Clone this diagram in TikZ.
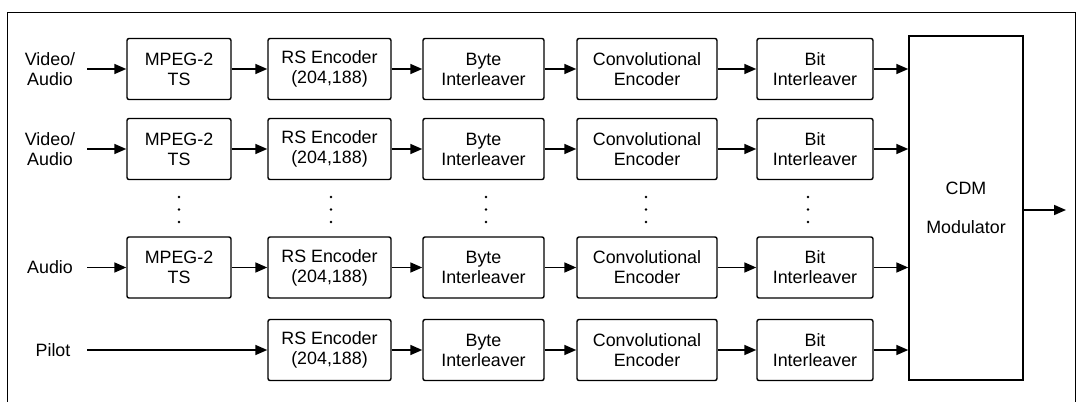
\documentclass[tikz,border=0pt]{standalone}
\usepackage{fontspec}
\setmainfont{Liberation Sans}
\usetikzlibrary{arrows.meta}

\tikzset{
    blk/.style={draw, line width=1pt, rounded corners=1.5pt, minimum height=1.525cm,
        align=center, font=\fontsize{12.7}{14.2}\selectfont},
    lbl/.style={align=center, font=\fontsize{12.7}{14.2}\selectfont},
    flow/.style={line width=1.2pt, -{Triangle[length=0.3cm, width=0.25cm]}}
}

\begin{document}
\begin{tikzpicture}[x=0.025cm, y=-0.025cm]
    \useasboundingbox (0,0) rectangle (1078,401);
    % open frame
    \draw[line width=0.7pt] (7,405) -- (7,12) -- (1075,12) -- (1075,405);

    % modulator on the right
    \node[blk, rounded corners=0pt, minimum width=2.85cm, minimum height=8.6cm] (cdm) at (966,208) {CDM\\[14pt]Modulator};
    \coordinate (out) at (1066,210);
    \draw[flow] (cdm.east |- out) -- (out);

    % three programme chains
    \foreach \i/\y/\src in {1/69/{Video/\\Audio}, 2/149/{Video/\\Audio}, 3/267.5/Audio} {
        \node[lbl] (in\i) at (50,\y) {\src};
        \node[blk, minimum width=2.6cm] (mpeg\i) at (179,\y) {MPEG-2\\TS};
        \draw[flow] (87,\y) -- (mpeg\i);
    }

    % pilot chain
    \node[lbl] (in4) at (53,350) {Pilot};
    \coordinate (p4) at (87,350);

    % common chain parts
    \foreach \i/\y in {1/69, 2/149, 3/267.5, 4/350} {
        \node[blk, minimum width=3.075cm] (rs\i) at (329.5,\y) {RS Encoder\\(204,188)};
        \node[blk, minimum width=3.025cm] (byte\i) at (483.5,\y) {Byte\\Interleaver};
        \node[blk, minimum width=3.5cm] (conv\i) at (647,\y) {Convolutional\\Encoder};
        \node[blk, minimum width=2.9cm] (bit\i) at (815,\y) {Bit\\Interleaver};
        \draw[flow] (rs\i) -- (byte\i);
        \draw[flow] (byte\i) -- (conv\i);
        \draw[flow] (conv\i) -- (bit\i);
        \draw[flow] (bit\i) -- (bit\i -| cdm.west);
    }
    \foreach \i in {1,2,3} \draw[flow] (mpeg\i) -- (rs\i);
    \draw[flow] (p4) -- (rs4);

    % vertical dots between the second and third chains
    \foreach \x in {179, 331, 486, 646, 808}
        \foreach \y in {197, 209.5, 222}
            \fill (\x,\y) circle (1.3);
\end{tikzpicture}
\end{document}
